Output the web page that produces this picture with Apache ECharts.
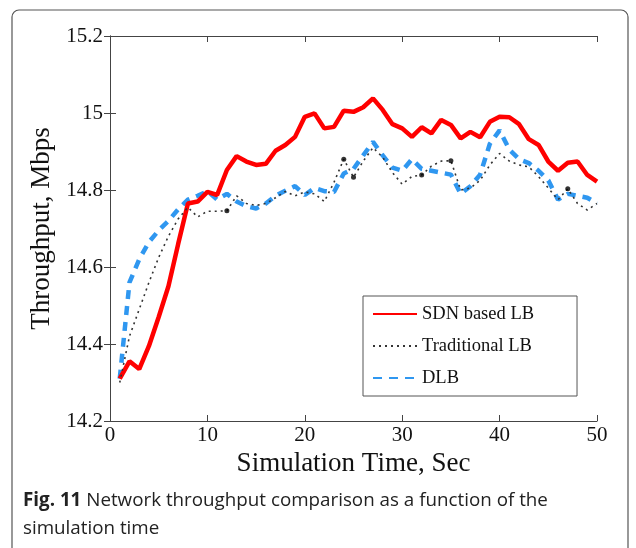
<!DOCTYPE html>
<html>
<head>
<meta charset="utf-8">
<script src="https://cdn.jsdelivr.net/npm/echarts@6/dist/echarts.min.js"></script>
<style>
  html, body { margin: 0; padding: 0; background: #fff; }
  #chart { width: 636px; height: 548px; }
</style>
</head>
<body>
<div id="chart"></div>
<script>
// Simulation time (s)
const timeSec = [1,2,3,4,5,6,7,8,9,10,11,12,13,14,15,16,17,18,19,20,21,22,23,24,25,
                 26,27,28,29,30,31,32,33,34,35,36,37,38,39,40,41,42,43,44,45,46,47,48,49,50];

// Throughput (Mbps) per balancing scheme
const sdnLB = [14.31,14.355,14.335,14.395,14.47,14.55,14.66,14.765,14.77,14.795,
               14.787,14.852,14.888,14.874,14.865,14.868,14.902,14.917,14.938,14.99,
               14.999,14.96,14.964,15.006,15.003,15.015,15.038,15.008,14.971,14.96,
               14.938,14.963,14.947,14.982,14.969,14.934,14.951,14.937,14.977,14.99,
               14.989,14.971,14.932,14.917,14.874,14.85,14.871,14.874,14.839,14.822];

const traditionalLB = [14.30,14.42,14.49,14.56,14.625,14.68,14.725,14.755,14.73,14.745,
                       14.745,14.746,14.785,14.765,14.76,14.765,14.78,14.796,14.785,14.795,
                       14.79,14.77,14.82,14.88,14.833,14.875,14.91,14.885,14.845,14.815,
                       14.835,14.839,14.862,14.875,14.876,14.80,14.805,14.825,14.865,14.895,
                       14.875,14.865,14.86,14.835,14.805,14.775,14.803,14.765,14.748,14.765];

const dlb = [14.31,14.56,14.62,14.665,14.695,14.72,14.75,14.775,14.785,14.797,
             14.775,14.79,14.77,14.758,14.752,14.765,14.785,14.798,14.81,14.787,
             14.805,14.797,14.795,14.843,14.855,14.89,14.925,14.89,14.858,14.85,
             14.88,14.855,14.85,14.845,14.84,14.79,14.81,14.84,14.92,14.955,
             14.905,14.88,14.87,14.85,14.825,14.775,14.79,14.785,14.78,14.765];

// Vertices of the traditional curve where the dotted pattern leaves a visible dot
const traditionalDotTimes = [12, 24, 25, 32, 35, 47];

const seriesNames = ['SDN based LB', 'Traditional LB', 'DLB'];
const xTicks = [0, 10, 20, 30, 40, 50];
const yTicks = [14.2, 14.4, 14.6, 14.8, 15, 15.2];

const pair = (arr) => timeSec.map((t, i) => [t, arr[i]]);
const serif = 'Liberation Serif';

const axisLine = { show: true, lineStyle: { color: '#444', width: 1 } };
const tickIn = { show: true, inside: true, length: 6, lineStyle: { color: '#444' } };

const chart = echarts.init(document.getElementById('chart'), null, { renderer: 'canvas' });

chart.setOption({
  animation: false,
  backgroundColor: '#fff',
  grid: { left: 110, top: 36, right: 39, bottom: 127, containLabel: false },
  xAxis: [
    {
      type: 'value', min: xTicks[0], max: xTicks[xTicks.length - 1], interval: 10,
      axisLine, axisTick: tickIn, splitLine: { show: false },
      axisLabel: { color: '#111', fontFamily: serif, fontSize: 21, margin: 4 },
      name: 'Simulation Time, Sec', nameLocation: 'middle', nameGap: 26,
      nameTextStyle: { color: '#111', fontFamily: serif, fontSize: 27 }
    },
    {
      type: 'value', position: 'top', min: xTicks[0], max: xTicks[xTicks.length - 1], interval: 10,
      axisLine, axisTick: tickIn, axisLabel: { show: false }, splitLine: { show: false }
    }
  ],
  yAxis: [
    {
      type: 'value', min: yTicks[0], max: yTicks[yTicks.length - 1], interval: 0.2,
      axisLine, axisTick: tickIn, splitLine: { show: false },
      axisLabel: {
        color: '#111', fontFamily: serif, fontSize: 21, margin: 7,
        formatter: (v) => String(+v.toFixed(1))
      },
      name: 'Throughput, Mbps', nameLocation: 'middle', nameGap: 52,
      nameTextStyle: { color: '#111', fontFamily: serif, fontSize: 27 }
    },
    {
      type: 'value', position: 'right', min: yTicks[0], max: yTicks[yTicks.length - 1], interval: 0.2,
      axisLine, axisTick: tickIn, axisLabel: { show: false }, splitLine: { show: false }
    }
  ],
  legend: {
    data: seriesNames,
    orient: 'vertical',
    left: 363, top: 296,
    padding: [8, 43, 8, 9],
    itemGap: 12,
    itemWidth: 44, itemHeight: 14,
    backgroundColor: '#fff',
    borderColor: '#555', borderWidth: 1,
    itemStyle: { opacity: 0 },
    textStyle: { color: '#111', fontFamily: serif, fontSize: 18.5, lineHeight: 20 }
  },
  series: [
    {
      name: seriesNames[0], type: 'line', data: pair(sdnLB), showSymbol: false, symbol: 'none',
      z: 3, lineStyle: { color: '#ff0000', width: 4.5 }, itemStyle: { color: '#ff0000' }
    },
    {
      name: seriesNames[1], type: 'line', data: pair(traditionalLB), showSymbol: false, symbol: 'none',
      z: 4, lineStyle: { color: '#333', width: 1.6, type: [2, 4] }, itemStyle: { color: '#333' }
    },
    {
      name: seriesNames[2], type: 'line', data: pair(dlb), showSymbol: false, symbol: 'none',
      z: 2, lineStyle: { color: '#2f97f0', width: 4.5, type: [9, 7] }, itemStyle: { color: '#2f97f0' }
    },
    {
      name: 'traditional-dots', type: 'scatter', z: 5, silent: true,
      data: traditionalDotTimes.map((t) => [t, traditionalLB[timeSec.indexOf(t)]]),
      symbol: 'circle', symbolSize: 5, itemStyle: { color: '#000' }
    }
  ],
  graphic: [
    {
      type: 'rect', silent: true, z: -10,
      shape: { x: 12, y: 10, width: 616, height: 560, r: 7 },
      style: { fill: 'none', stroke: '#555', lineWidth: 1.2 }
    },
    {
      type: 'text', left: 23, top: 487, silent: true,
      style: {
        text: '{b|Fig. 11} Network throughput comparison as a function of the\nsimulation time',
        font: '18.8px "Open Sans"', fill: '#222', lineHeight: 28,
        rich: {
          b: { font: 'bold 18.8px "Open Sans"', fill: '#222', lineHeight: 28 }
        }
      }
    }
  ]
});
</script>
</body>
</html>
